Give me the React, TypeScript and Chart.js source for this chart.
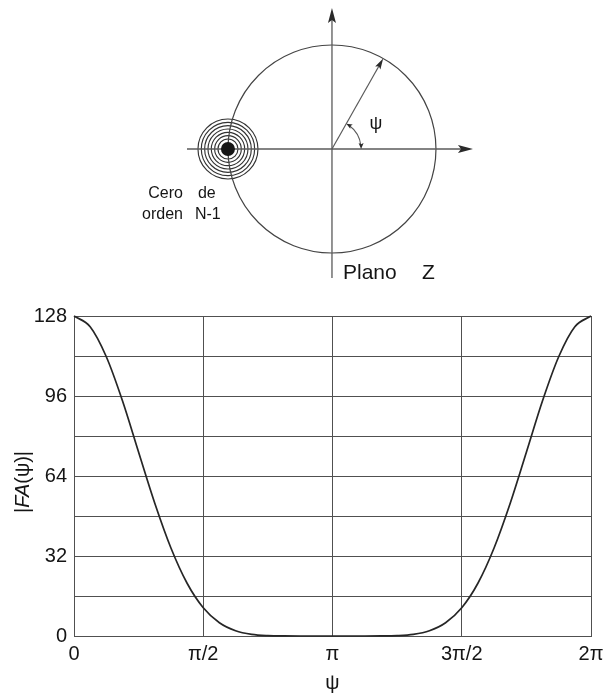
import React, { useEffect, useRef } from 'react';
import { Chart, registerables } from 'chart.js';

Chart.register(...registerables);

const FONT = '"Liberation Sans", Arial, Helvetica, sans-serif';
const INK = '#151515';
const LINE = '#505050';

// |FA(ψ)| of the array, sampled every π/16 (ψ given in units of π)
const psiOverPi = [
  0, 0.0625, 0.125, 0.1875, 0.25, 0.3125, 0.375, 0.4375, 0.5,
  0.5625, 0.625, 0.6875, 0.75, 0.8125, 0.875, 0.9375, 1,
  1.0625, 1.125, 1.1875, 1.25, 1.3125, 1.375, 1.4375, 1.5,
  1.5625, 1.625, 1.6875, 1.75, 1.8125, 1.875, 1.9375, 2,
];
const arrayFactor = [
  128, 123.7, 111.7, 94.1, 73.5, 53.1, 35.2, 21.1, 11.3,
  5.3, 2.1, 0.66, 0.15, 0.02, 0, 0, 0,
  0, 0, 0.02, 0.15, 0.66, 2.1, 5.3, 11.3,
  21.1, 35.2, 53.1, 73.5, 94.1, 111.7, 123.7, 128,
];

// Axis ticks of the plot
const xTickValues = [0, 0.5, 1, 1.5, 2];
const xTickLabels = ['0', 'π/2', 'π', '3π/2', '2π'];
const yTickLabels = [0, 32, 64, 96, 128];
const yGridStep = 16;

// Z plane: zero of order N-1 sitting at z = -1, and the phase ψ shown on the unit circle
const zeroPoints = [{ x: -1, y: 0 }];
const zeroOrder = 7;
const psiMarkDeg = 60.5;

function arrowHead(
  ctx: CanvasRenderingContext2D,
  tx: number,
  ty: number,
  dx: number,
  dy: number,
  len: number,
  wid: number
) {
  const n = Math.hypot(dx, dy);
  const ux = dx / n;
  const uy = dy / n;
  const bx = tx - ux * len;
  const by = ty - uy * len;
  ctx.beginPath();
  ctx.moveTo(tx, ty);
  ctx.lineTo(bx - uy * wid / 2, by + ux * wid / 2);
  ctx.lineTo(bx + ux * len * 0.2, by + uy * len * 0.2);
  ctx.lineTo(bx + uy * wid / 2, by - ux * wid / 2);
  ctx.closePath();
  ctx.fill();
}

const zPlanePlugin = {
  id: 'zPlane',
  beforeDatasetsDraw(chart: any) {
    const ctx: CanvasRenderingContext2D = chart.ctx;
    const xs = chart.scales.x;
    const ys = chart.scales.y;
    const px = (u: number) => xs.getPixelForValue(u);
    const py = (v: number) => ys.getPixelForValue(v);
    const cx = px(0);
    const cy = py(0);
    const unit = px(1) - px(0);

    ctx.save();
    // rings around each zero, one per order
    ctx.strokeStyle = '#333';
    ctx.lineWidth = 1.15;
    for (const z of zeroPoints) {
      const zx = px(z.x);
      const zy = py(z.y);
      for (let i = 0; i < zeroOrder; i++) {
        const r = 10 + i * (20 / (zeroOrder - 1));
        ctx.beginPath();
        ctx.arc(zx, zy, r, 0, Math.PI * 2);
        ctx.stroke();
      }
    }

    // unit circle
    ctx.strokeStyle = '#444';
    ctx.lineWidth = 1.2;
    ctx.beginPath();
    ctx.arc(cx, cy, unit, 0, Math.PI * 2);
    ctx.stroke();

    // real and imaginary axes
    ctx.strokeStyle = '#5a5a5a';
    ctx.fillStyle = '#2a2a2a';
    ctx.lineWidth = 1.3;
    const hx0 = px(-1.394);
    const hx1 = px(1.356);
    ctx.beginPath();
    ctx.moveTo(hx0, cy);
    ctx.lineTo(hx1 - 8, cy);
    ctx.stroke();
    arrowHead(ctx, hx1, cy, 1, 0, 15, 8);

    const vy0 = py(-1.24);
    const vy1 = py(1.356);
    ctx.beginPath();
    ctx.moveTo(cx, vy0);
    ctx.lineTo(cx, vy1 + 8);
    ctx.stroke();
    arrowHead(ctx, cx, vy1, 0, -1, 15, 8);

    // phasor at angle ψ
    const a = (psiMarkDeg * Math.PI) / 180;
    const tx = px(Math.cos(a));
    const ty = py(Math.sin(a));
    ctx.lineWidth = 1.2;
    ctx.beginPath();
    ctx.moveTo(cx, cy);
    ctx.lineTo(tx - Math.cos(a) * 6, ty + Math.sin(a) * 6);
    ctx.stroke();
    arrowHead(ctx, tx, ty, Math.cos(a), -Math.sin(a), 11, 6);

    // angle arc between real axis and phasor
    const ar = 0.28 * unit;
    ctx.lineWidth = 1.1;
    ctx.beginPath();
    ctx.arc(cx, cy, ar, -a + 0.12, -0.12, false);
    ctx.stroke();
    arrowHead(ctx, cx + ar, cy, 0, 1, 6, 5);
    arrowHead(
      ctx,
      cx + ar * Math.cos(a),
      cy - ar * Math.sin(a),
      -Math.sin(a),
      -Math.cos(a),
      6,
      5
    );
    ctx.restore();
  },
  afterDatasetsDraw(chart: any) {
    const ctx: CanvasRenderingContext2D = chart.ctx;
    const xs = chart.scales.x;
    const ys = chart.scales.y;
    const cx = xs.getPixelForValue(0);
    const cy = ys.getPixelForValue(0);
    const zx = xs.getPixelForValue(zeroPoints[0].x);
    const zy = ys.getPixelForValue(zeroPoints[0].y);

    ctx.save();
    ctx.fillStyle = INK;
    ctx.textBaseline = 'middle';
    ctx.textAlign = 'center';
    ctx.font = `18px ${FONT}`;
    ctx.fillText('ψ', cx + 44, cy - 25);

    ctx.textBaseline = 'alphabetic';
    ctx.font = `16px ${FONT}`;
    ctx.textAlign = 'right';
    ctx.fillText('Cero', zx - 45, zy + 49);
    ctx.fillText('orden', zx - 45, zy + 70);
    ctx.textAlign = 'left';
    ctx.fillText('de', zx - 30, zy + 49);
    ctx.fillText('N-1', zx - 33, zy + 70);

    ctx.font = `21px ${FONT}`;
    ctx.fillText('Plano', cx + 11, cy + 130);
    ctx.fillText('Z', cx + 90, cy + 130);
    ctx.restore();
  },
};

const yTitlePlugin = {
  id: 'yTitleMixed',
  afterDraw(chart: any) {
    const ctx: CanvasRenderingContext2D = chart.ctx;
    const area = chart.chartArea;
    const parts: [string, string][] = [
      ['|', 'normal'],
      ['FA', 'italic'],
      ['(ψ)|', 'normal'],
    ];
    ctx.save();
    ctx.fillStyle = INK;
    ctx.textBaseline = 'middle';
    ctx.textAlign = 'left';
    let total = 0;
    const widths = parts.map(([t, s]) => {
      ctx.font = `${s} 20px ${FONT}`;
      const w = ctx.measureText(t).width;
      total += w;
      return w;
    });
    ctx.translate(23, (area.top + area.bottom) / 2 + 6);
    ctx.rotate(-Math.PI / 2);
    let x = -total / 2;
    parts.forEach(([t, s], i) => {
      ctx.font = `${s} 20px ${FONT}`;
      ctx.fillText(t, x, 0);
      x += widths[i];
    });
    ctx.restore();
  },
};

export default function App() {
  const topRef = useRef<HTMLCanvasElement>(null);
  const plotRef = useRef<HTMLCanvasElement>(null);

  useEffect(() => {
    Chart.defaults.font.family = FONT;
    Chart.defaults.color = INK;

    const zChart = new Chart(topRef.current!, {
      type: 'scatter',
      data: {
        datasets: [
          {
            data: zeroPoints,
            pointRadius: 7,
            pointBackgroundColor: '#161616',
            pointBorderWidth: 0,
          },
        ],
      },
      options: {
        responsive: false,
        animation: false,
        layout: { padding: 0, autoPadding: false },
        plugins: { legend: { display: false }, tooltip: { enabled: false } },
        scales: {
          x: { type: 'linear', min: -3.192, max: 2.606, display: false },
          y: { type: 'linear', min: -1.356, max: 1.433, display: false },
        },
      },
      plugins: [zPlanePlugin],
    });

    const plot = new Chart(plotRef.current!, {
      type: 'line',
      data: {
        datasets: [
          {
            data: psiOverPi.map((p, i) => ({ x: p, y: arrayFactor[i] })),
            borderColor: '#262626',
            borderWidth: 1.7,
            pointRadius: 0,
            fill: false,
            cubicInterpolationMode: 'monotone',
            clip: false,
          },
        ],
      },
      options: {
        responsive: false,
        animation: false,
        layout: { padding: { top: 26, right: 12, left: 0, bottom: 0 }, autoPadding: false },
        plugins: { legend: { display: false }, tooltip: { enabled: false } },
        scales: {
          x: {
            type: 'linear',
            min: 0,
            max: 2,
            afterBuildTicks: (scale: any) => {
              scale.ticks = xTickValues.map((v) => ({ value: v }));
            },
            afterFit: (scale: any) => {
              scale.height = 59;
              scale.paddingLeft = 0;
              scale.paddingRight = 0;
            },
            ticks: {
              padding: 6,
              maxRotation: 0,
              font: { size: 20 },
              color: INK,
              callback: (v: any) => {
                const i = xTickValues.indexOf(Number(v));
                return i >= 0 ? xTickLabels[i] : '';
              },
            },
            grid: { color: LINE, lineWidth: 1, drawTicks: false },
            border: { color: LINE, width: 1 },
            title: {
              display: true,
              text: 'ψ',
              font: { size: 20 },
              color: INK,
              padding: { top: 0, bottom: 0 },
            },
          },
          y: {
            type: 'linear',
            min: 0,
            max: 128,
            afterFit: (scale: any) => {
              scale.width = 74;
              scale.paddingTop = 0;
              scale.paddingBottom = 0;
            },
            ticks: {
              stepSize: yGridStep,
              padding: 7,
              font: { size: 20 },
              color: INK,
              callback: (v: any) => (yTickLabels.includes(Number(v)) ? String(v) : ''),
            },
            grid: { color: LINE, lineWidth: 1, drawTicks: false },
            border: { color: LINE, width: 1 },
          },
        },
      },
      plugins: [yTitlePlugin],
    });

    return () => {
      zChart.destroy();
      plot.destroy();
    };
  }, []);

  return (
    <div style={{ position: 'absolute', left: 0, top: 0, width: 603, height: 695, background: '#fff' }}>
      <canvas ref={topRef} width={603} height={290} style={{ position: 'absolute', left: 0, top: 0 }} />
      <canvas ref={plotRef} width={603} height={405} style={{ position: 'absolute', left: 0, top: 290 }} />
    </div>
  );
}
